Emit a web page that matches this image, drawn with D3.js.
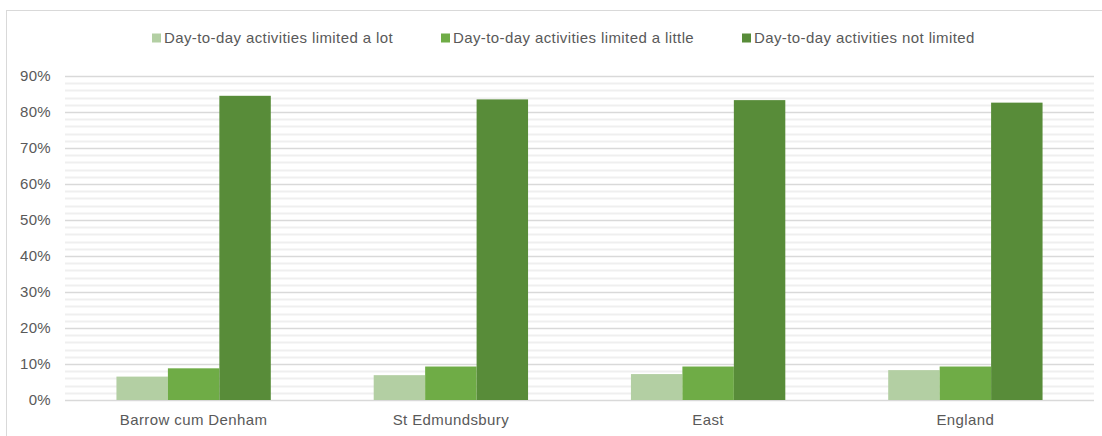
<!DOCTYPE html>
<html>
<head>
<meta charset="utf-8">
<script src="https://cdn.jsdelivr.net/npm/d3@7"></script>
<style>
  html, body { margin: 0; padding: 0; background: #fff; }
  svg { display: block; font-family: "Liberation Sans", Arial, sans-serif; }
</style>
</head>
<body>
<svg id="chart" width="1102" height="436"></svg>
<script>
// Areas compared
const categories = ["Barrow cum Denham", "St Edmundsbury", "East", "England"];
// Share of residents by how much day-to-day activities are limited (%)
const seriesNames = [
  "Day-to-day activities limited a lot",
  "Day-to-day activities limited a little",
  "Day-to-day activities not limited"
];
const limitedALot    = [6.5, 6.9, 7.2, 8.3];
const limitedALittle = [8.8, 9.3, 9.3, 9.3];
const notLimited     = [84.5, 83.5, 83.3, 82.6];
const yTicks = [0, 10, 20, 30, 40, 50, 60, 70, 80, 90];
const colors = ["#b3cfa3", "#6fac46", "#588c39"];

const series = [limitedALot, limitedALittle, notLimited];

const svg = d3.select("#chart");
const W = 1102, H = 436;
const plot = { left: 65, right: 1094, top: 76, bottom: 400 };
const textColor = "#595959";

// chart frame
svg.append("rect")
  .attr("x", 6.5).attr("y", 10.5)
  .attr("width", W - 6).attr("height", H)
  .attr("fill", "#fff").attr("stroke", "#d9d9d9").attr("stroke-width", 1);

const x = d3.scaleBand().domain(categories).range([plot.left, plot.right]).paddingInner(0).paddingOuter(0);
const y = d3.scaleLinear().domain([0, 90]).range([plot.bottom, plot.top]);

// minor gridlines every 2%
const minor = d3.range(2, 90, 2).filter(v => v % 10 !== 0);
svg.append("g").selectAll("line").data(minor).join("line")
  .attr("x1", plot.left).attr("x2", plot.right)
  .attr("y1", d => Math.round(y(d)) + 0.5).attr("y2", d => Math.round(y(d)) + 0.5)
  .attr("stroke", "#efefef").attr("stroke-width", 2);

// major gridlines
svg.append("g").selectAll("line").data(yTicks).join("line")
  .attr("x1", plot.left).attr("x2", plot.right)
  .attr("y1", d => Math.round(y(d)) + 0.5).attr("y2", d => Math.round(y(d)) + 0.5)
  .attr("stroke", "#d9d9d9").attr("stroke-width", 1.5);

// y axis labels
const yAxis = d3.axisLeft(y).tickValues(yTicks).tickFormat(d => d + "%").tickSize(0).tickPadding(14);
const yg = svg.append("g").attr("transform", `translate(${plot.left},0)`).call(yAxis);
yg.select(".domain").remove();
yg.selectAll("text").attr("fill", textColor).attr("font-size", 15)
  .attr("letter-spacing", "0.3px").attr("font-family", "Liberation Sans, Arial, sans-serif");

// bars: three per group, group takes 60% of the band (gap width 200%)
const band = x.bandwidth();
const inner = d3.scaleBand().domain(d3.range(series.length)).range([band * 0.2, band * 0.8]);

series.forEach((vals, si) => {
  svg.append("g").selectAll("rect").data(vals).join("rect")
    .attr("x", (d, i) => x(categories[i]) + inner(si))
    .attr("width", inner.bandwidth())
    .attr("y", d => y(d))
    .attr("height", d => y(0) - y(d))
    .attr("fill", colors[si]);
});

// category labels
const xAxis = d3.axisBottom(x).tickSize(0).tickPadding(14);
const xg = svg.append("g").attr("transform", `translate(0,${plot.bottom})`).call(xAxis);
xg.select(".domain").remove();
xg.selectAll("text").attr("fill", textColor).attr("font-size", 15)
  .attr("letter-spacing", "0.4px").attr("font-family", "Liberation Sans, Arial, sans-serif");

// legend
const legendX = [152, 441, 742];
const lg = svg.append("g");
seriesNames.forEach((name, i) => {
  const g = lg.append("g").attr("transform", `translate(${legendX[i]},38)`);
  g.append("rect").attr("x", 0).attr("y", -4.5).attr("width", 9).attr("height", 9).attr("fill", colors[i]);
  g.append("text").attr("x", 12).attr("y", 0).attr("dy", "0.35em")
    .attr("fill", textColor).attr("font-size", 15).attr("letter-spacing", "0.4px").text(name);
});
</script>
</body>
</html>
